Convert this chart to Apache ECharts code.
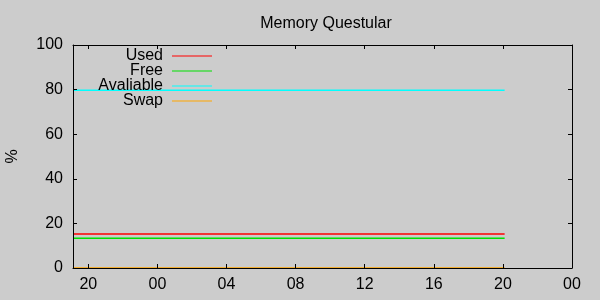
<!DOCTYPE html>
<html>
<head>
<meta charset="utf-8">
<script src="https://cdn.jsdelivr.net/npm/echarts@6/dist/echarts.min.js"></script>
<style>
html,body{margin:0;padding:0;background:#cccccc;}
#c{width:600px;height:300px;}
</style>
</head>
<body>
<div id="c"></div>
<script>
// Hours since 20:00 of the first day
const hours = [-0.885, 24.1];
const usedValues = [15.2, 15.2];
const freeValues = [13.3, 13.3];
const availableValues = [79.7, 79.7];
const swapValues = [0, 0];
const seriesNames = ['Used', 'Free', 'Avaliable', 'Swap'];
const seriesColors = ['#ff0000', '#00e000', '#00ffff', '#ffa500'];
const tickHours = [0, 4, 8, 12, 16, 20, 24, 28];
const tickLabels = ['20', '00', '04', '08', '12', '16', '20', '00'];

const FONT = 'Liberation Sans';
const pair = (vals) => hours.map((h, i) => [h, vals[i]]);
const allValues = [usedValues, freeValues, availableValues, swapValues];

const chart = echarts.init(document.getElementById('c'), null, {renderer: 'canvas'});

const legends = seriesNames.map((n, i) => ({
  data: [n],
  orient: 'vertical',
  right: 388,
  top: 48 + i * 15,
  padding: 0,
  align: 'right',
  icon: 'rect',
  itemWidth: 40,
  itemHeight: 1,
  selectedMode: false,
  textStyle: {fontFamily: FONT, fontSize: 16, color: '#000', lineHeight: 16, padding: [0, 4, 0, 0]}
}));

const xCommon = {
  type: 'value', min: -0.885, max: 28,
  splitLine: {show: false},
  axisLine: {show: true, onZero: false, lineStyle: {color: '#000', width: 1}},
  axisTick: {show: true, inside: true, length: 4, customValues: tickHours, lineStyle: {color: '#000'}},
  z: 5
};
const yCommon = {
  type: 'value', min: 0, max: 100, interval: 20,
  splitLine: {show: false},
  axisLine: {show: true, onZero: false, lineStyle: {color: '#000', width: 1}},
  axisTick: {show: true, inside: true, length: 4, lineStyle: {color: '#000'}},
  z: 5
};

chart.setOption({
  backgroundColor: '#cccccc',
  animation: false,
  title: {
    text: 'Memory Questular', left: 321, top: 11, textAlign: 'center',
    textStyle: {fontFamily: FONT, fontSize: 16, fontWeight: 'normal', color: '#000'}
  },
  legend: legends,
  grid: {left: 73, right: 28, top: 45, bottom: 32, containLabel: false, outerBoundsMode: 'none'},
  xAxis: [
    Object.assign({}, xCommon, {
      position: 'bottom',
      axisLabel: {show: true, customValues: tickHours, margin: 9, color: '#000', fontFamily: FONT, fontSize: 16,
        formatter: (v) => tickLabels[tickHours.indexOf(v)]}
    }),
    Object.assign({}, xCommon, {position: 'top', axisLabel: {show: false}})
  ],
  yAxis: [
    Object.assign({}, yCommon, {
      position: 'left',
      name: '%', nameLocation: 'middle', nameGap: 52, nameRotate: 90,
      nameTextStyle: {fontFamily: FONT, fontSize: 16, color: '#000'},
      axisLabel: {show: true, margin: 10, color: '#000', fontFamily: FONT, fontSize: 16}
    }),
    Object.assign({}, yCommon, {position: 'right', axisLabel: {show: false}})
  ],
  series: seriesNames.map((n, i) => ({
    name: n, type: 'line', data: pair(allValues[i]),
    showSymbol: false, symbol: 'none', z: 2,
    color: seriesColors[i],
    lineStyle: {color: seriesColors[i], width: 1.5},
    itemStyle: {color: seriesColors[i]}
  }))
});
</script>
</body>
</html>
